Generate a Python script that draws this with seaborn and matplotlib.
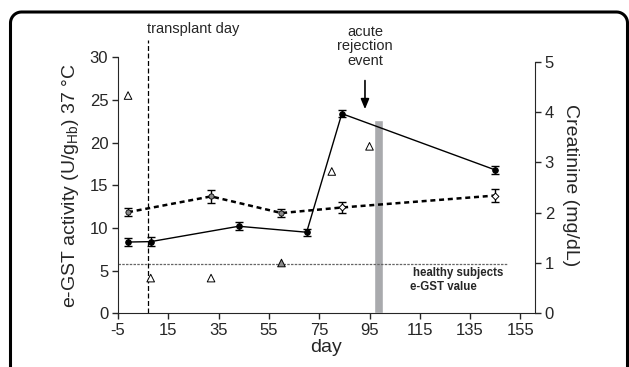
import numpy as np
import pandas as pd
import matplotlib
matplotlib.use("Agg")
import matplotlib.pyplot as plt
from matplotlib.lines import Line2D
import seaborn as sns

# ---- data ----
solid_day = [-1, 8, 43, 70, 84, 145]
solid_val = [8.35, 8.4, 10.2, 9.5, 23.4, 16.8]
solid_err = [0.45, 0.5, 0.45, 0.4, 0.45, 0.45]

dash_day = [-1, 32, 60, 84, 145]
dash_val = [11.85, 13.7, 11.75, 12.4, 13.8]
dash_err = [0.5, 0.75, 0.5, 0.6, 0.75]

tri_day = [-1, 8, 32, 60, 80, 95]
tri_creat = [4.33, 0.70, 0.70, 1.00, 2.82, 3.32]

healthy_egst = 5.8
transplant_day = 7
rejection_day = 98.6
rejection_width = 3.6
rejection_top = 22.6

xticks = [-5, 15, 35, 55, 75, 95, 115, 135, 155]
yticks_left = [0, 5, 10, 15, 20, 25, 30]
yticks_right = [0, 1, 2, 3, 4, 5]

sns.set_style("ticks")
plt.rcParams['font.family'] = ['Liberation Sans', 'DejaVu Sans']
plt.rcParams['axes.unicode_minus'] = False

W, H = 629, 367
fig = plt.figure(figsize=(W/100, H/100), dpi=100)
ax = fig.add_axes([118/W, 1-313.3/H, (535-118)/W, (313.3-57.3)/H])

solid_df = pd.DataFrame({"day": solid_day, "val": solid_val})
dash_df = pd.DataFrame({"day": dash_day, "val": dash_val})

ax.bar([rejection_day], [rejection_top], width=rejection_width, color="#a9aaad", zorder=1)
ax.plot([-5, 149.5], [healthy_egst, healthy_egst], color="#666666", lw=0.9,
        linestyle=(0, (2, 1)), zorder=2)

sns.lineplot(data=solid_df, x="day", y="val", ax=ax, color="black", lw=1.0,
             marker="o", markersize=4, markeredgecolor="black", zorder=4)
ax.errorbar(solid_day, solid_val, yerr=solid_err, fmt="none", ecolor="black",
            elinewidth=1.0, capsize=3, capthick=1.0, zorder=4)

sns.lineplot(data=dash_df, x="day", y="val", ax=ax, color="black", lw=1.8,
             linestyle=(0, (2.0, 1.5)), zorder=3)
ax.errorbar(dash_day, dash_val, yerr=dash_err, fmt="none", ecolor="black",
            elinewidth=1.0, capsize=3, capthick=1.0, zorder=4)
ax.scatter(dash_day[:3], dash_val[:3], marker="o", s=14, facecolor="#888888",
           edgecolor="black", linewidths=0.6, zorder=5)
ax.scatter(dash_day[3:], dash_val[3:], marker="D", s=12, facecolor="white",
           edgecolor="black", linewidths=0.7, zorder=5)

ax.plot([transplant_day, transplant_day], [0, 32.0], color="black", lw=0.9,
        linestyle=(0, (4, 2)), clip_on=False, zorder=2)

ax.set_xlim(-5, 160.8)
ax.set_ylim(0, 30)
ax.set_xticks(xticks)
ax.set_yticks(yticks_left)
ax.tick_params(axis="both", labelsize=12, direction="out", length=4, width=1, pad=3)
for s in ["top", "right"]:
    ax.spines[s].set_visible(False)
ax.set_xlabel("day", fontsize=14, labelpad=1)
ax.set_ylabel("e-GST activity (U/g$_{\\mathregular{Hb}}$) 37 °C", fontsize=14, labelpad=6)

ax2 = ax.twinx()
ax2.set_ylim(0, 5.09)
ax2.set_yticks(yticks_right)
ax2.spines["right"].set_bounds(0, 5)
for s in ["top", "left", "bottom"]:
    ax2.spines[s].set_visible(False)
ax2.tick_params(axis="y", labelsize=12, direction="out", length=4, width=1, pad=3)
tri_colors = ["white", "white", "white", "#888888", "white", "white"]
ax2.scatter(tri_day, tri_creat, marker="^", s=30, facecolor=tri_colors,
            edgecolor="black", linewidths=0.7, zorder=5)
ax2.set_ylabel("Creatinine (mg/dL)", fontsize=14, rotation=270, labelpad=18)

ax.text(transplant_day - 0.4, 33.3, "transplant day", fontsize=10.5, ha="left",
        va="center", clip_on=False)
ax.text(93.2, 31.3, "acute\nrejection\nevent", fontsize=10.5, ha="center",
        va="center", linespacing=1.05, clip_on=False)
ax.annotate("", xy=(93.2, 23.6), xytext=(93.2, 27.6),
            arrowprops=dict(arrowstyle="-|>,head_width=0.25,head_length=0.6",
                            color="black", lw=1.2), annotation_clip=False)
ax.text(112.2, 4.7, "healthy subjects", fontsize=8.3, fontweight="bold",
        ha="left", va="center")
ax.text(111.0, 3.05, "e-GST value", fontsize=8.3, fontweight="bold",
        ha="left", va="center")

# open rounded frame: a single polyline (left edge, top edge, right edge)
xl, xr, yt, r = 10.5, 627.5, H - 12.0, 11.0
ang = np.linspace(0, np.pi / 2, 12)
left_corner_x = xl + r - r * np.cos(ang)
left_corner_y = yt - r + r * np.sin(ang)
right_corner_x = xr - r + r * np.sin(ang)
right_corner_y = yt - r + r * np.cos(ang)
fx = np.concatenate([[xl], left_corner_x, right_corner_x, [xr]]) / W
fy = np.concatenate([[0.0], left_corner_y, right_corner_y, [0.0]]) / H
fig.add_artist(Line2D(fx, fy, transform=fig.transFigure, color="black", lw=2.2,
                      solid_capstyle="butt", solid_joinstyle="round"))

fig.savefig("out.png", dpi=100)
